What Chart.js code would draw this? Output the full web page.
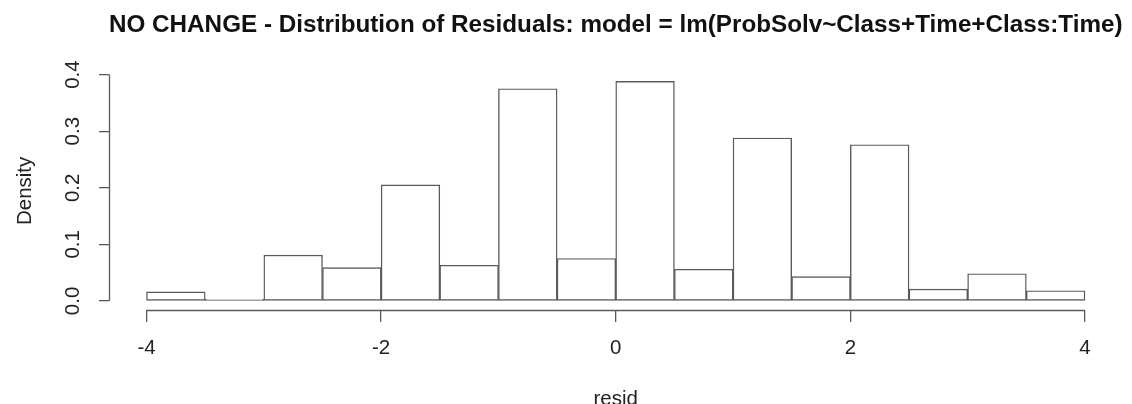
<!DOCTYPE html>
<html>
<head>
<meta charset="utf-8">
<script src="https://cdn.jsdelivr.net/npm/chart.js@4"></script>
<style>
  body { margin: 0; background: #fff; }
  #box { width: 1132px; height: 404px; }
</style>
</head>
<body>
<div id="box"><canvas id="grafico"></canvas></div>
<script>
// histogram bins (edges) and densities
const breaks = [-4, -3.5, -3, -2.5, -2, -1.5, -1, -0.5, 0, 0.5, 1, 1.5, 2, 2.5, 3, 3.5, 4];
const density = [0.016, 0.003, 0.081, 0.059, 0.205, 0.063, 0.375, 0.075, 0.388, 0.056, 0.288, 0.043, 0.276, 0.021, 0.048, 0.018];

const xTicks = [-4, -2, 0, 2, 4];
const yTicks = [0, 0.1, 0.2, 0.3, 0.4];

const titulo = "NO CHANGE - Distribution of Residuals: model = lm(ProbSolv~Class+Time+Class:Time)";
const xLabel = "resid";
const yLabel = "Density";

const fonte = "'Liberation Sans', Arial, Helvetica, sans-serif";
const corLinha = "#5a5a5a";
const corTexto = "#222";

const pontos = density.map((d, i) => ({ x: (breaks[i] + breaks[i + 1]) / 2, y: d }));

// R style detached axes: line only across the tick range
const eixosR = {
  id: "eixosR",
  afterDraw(chart) {
    const { ctx, chartArea, scales } = chart;
    const x = scales.x, y = scales.y;
    ctx.save();
    ctx.strokeStyle = corLinha;
    ctx.lineWidth = 1.3;
    ctx.beginPath();
    ctx.moveTo(x.getPixelForValue(xTicks[0]), chartArea.bottom + 0.5);
    ctx.lineTo(x.getPixelForValue(xTicks[xTicks.length - 1]), chartArea.bottom + 0.5);
    ctx.moveTo(chartArea.left + 0.5, y.getPixelForValue(yTicks[0]));
    ctx.lineTo(chartArea.left + 0.5, y.getPixelForValue(yTicks[yTicks.length - 1]));
    ctx.stroke();
    ctx.restore();
  }
};

new Chart(document.getElementById("grafico"), {
  type: "bar",
  data: {
    datasets: [{
      data: pontos,
      backgroundColor: "#fff",
      borderColor: corLinha,
      borderWidth: 1.4,
      borderSkipped: false,
      barPercentage: 1,
      categoryPercentage: 1
    }]
  },
  options: {
    responsive: true,
    maintainAspectRatio: false,
    animation: false,
    layout: { padding: { left: 0, right: 9.5, top: 0, bottom: 0 } },
    plugins: {
      legend: { display: false },
      tooltip: { enabled: false },
      title: {
        display: true,
        text: titulo,
        fullSize: false,
        color: "#111",
        font: { family: fonte, size: 24.4, weight: "bold", lineHeight: 1.2 },
        padding: { top: 11, bottom: 31.5 }
      }
    },
    scales: {
      x: {
        type: "linear",
        min: -4.32,
        max: 4.32,
        offset: false,
        afterBuildTicks: s => { s.ticks = xTicks.map(v => ({ value: v })); },
        afterFit: s => { s.height = 94; },
        border: { display: false },
        grid: { display: true, offset: false, drawOnChartArea: false, drawTicks: true, tickLength: 12, lineWidth: 1.3, color: corLinha },
        ticks: {
          minRotation: 0, maxRotation: 0, padding: 14, color: corTexto,
          font: { family: fonte, size: 20.5 },
          callback: v => String(v)
        },
        title: {
          display: true, text: xLabel, color: corTexto,
          font: { family: fonte, size: 20.5, lineHeight: 0.5 },
          padding: { top: 0, bottom: 0 }
        }
      },
      y: {
        type: "linear",
        min: -0.016,
        max: 0.405,
        afterBuildTicks: s => { s.ticks = yTicks.map(v => ({ value: v })); },
        afterFit: s => { s.width = 109; },
        border: { display: false },
        grid: { display: true, drawOnChartArea: false, drawTicks: true, tickLength: 10, lineWidth: 1.3, color: corLinha },
        ticks: {
          minRotation: 90, maxRotation: 90, crossAlign: "center", padding: 11, color: corTexto,
          font: { family: fonte, size: 20.5 },
          callback: v => v.toFixed(1)
        },
        title: {
          display: true, text: yLabel, color: corTexto,
          font: { family: fonte, size: 20.5, lineHeight: 1.2 },
          padding: { top: 13, bottom: 0 }
        }
      }
    }
  },
  plugins: [eixosR]
});
</script>
</body>
</html>
